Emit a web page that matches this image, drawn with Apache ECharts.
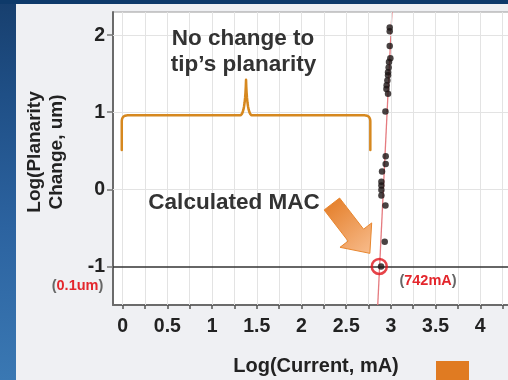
<!DOCTYPE html>
<html><head><meta charset="utf-8">
<script src="https://cdn.jsdelivr.net/npm/echarts@6/dist/echarts.min.js"></script>
<style>html,body{margin:0;padding:0;background:#eff0f3;}#c{width:508px;height:380px;}</style>
</head><body><div id="c"></div>
<script>
// ---- data ----
const currentLog = [2.987, 2.987, 2.987, 2.994, 2.979, 2.975, 2.968, 2.968, 2.961, 2.953, 2.950, 2.968, 2.939,
                    2.942, 2.942, 2.901, 2.894, 2.894, 2.894, 2.894, 2.939, 2.931, 2.890];
const planarityLog = [2.10, 2.05, 1.86, 1.70, 1.65, 1.58, 1.52, 1.48, 1.41, 1.35, 1.30, 1.24, 1.01,
                      0.43, 0.33, 0.23, 0.10, 0.05, -0.01, -0.08, -0.21, -0.68, -1.00];
const macPoint = [2.87, -1];
const trendX = [2.853, 3.012];
const trendY = [-1.5, 2.3];
const xLabelValues = [0, 0.5, 1, 1.5, 2, 2.5, 3, 3.5, 4, 4.5];
const xTickValues = [0, 0.25, 0.5, 0.75, 1, 1.25, 1.5, 1.75, 2, 2.25, 2.5, 2.75, 3, 3.25, 3.5, 3.75, 4, 4.25, 4.5];
const yLabelValues = [-1, 0, 1, 2];
const hGridValues = [0, 1, 2];
const refLineY = -1;

const FONT = '"Liberation Sans", Arial, sans-serif';
const chart = echarts.init(document.getElementById('c'), null, {renderer: 'canvas'});

const option = {
  animation: false,
  backgroundColor: '#eff0f3',
  grid: {left: 113, top: 12, width: 412, height: 293, show: true, backgroundColor: '#ffffff',
         borderColor: '#9a9a9a', borderWidth: 1, containLabel: false, outerBoundsMode: 'none'},
  xAxis: {
    type: 'value', min: -0.108, max: 4.5,
    axisLine: {show: true, onZero: false, lineStyle: {color: '#6b6b6b', width: 2}},
    axisTick: {show: true, customValues: xTickValues, length: 4, lineStyle: {color: '#555', width: 1.5}},
    axisLabel: {customValues: xLabelValues, margin: 12, fontSize: 19.5, fontWeight: 'bold', color: '#222', fontFamily: FONT},
    splitLine: {show: false}
  },
  yAxis: {
    type: 'value', min: -1.5, max: 2.3,
    axisLine: {show: true, onZero: false, lineStyle: {color: '#6b6b6b', width: 2}},
    axisTick: {show: true, customValues: yLabelValues, length: 6, lineStyle: {color: '#777', width: 1.5}},
    axisLabel: {customValues: yLabelValues, margin: 8, fontSize: 19.5, fontWeight: 'bold', color: '#222', fontFamily: FONT},
    splitLine: {show: false}
  },
  series: [
    {
      type: 'scatter', data: [], z: 1, silent: true,
      markLine: {
        silent: true, symbol: 'none', label: {show: false}, animation: false,
        lineStyle: {color: '#e3e3e3', width: 1, type: 'solid'},
        data: xTickValues.map(v => ({xAxis: v})).concat(hGridValues.map(v => ({yAxis: v})))
      }
    },
    {
      type: 'scatter', data: [], z: 2, silent: true,
      markLine: {
        silent: true, symbol: 'none', label: {show: false}, animation: false,
        lineStyle: {color: '#333', width: 1.5, type: 'solid'},
        data: [{yAxis: refLineY}]
      }
    },
    {
      type: 'line', z: 3, silent: true, showSymbol: false,
      data: trendX.map((x, i) => [x, trendY[i]]),
      lineStyle: {color: '#e57b80', width: 1.3}
    },
    {
      type: 'scatter', z: 5, symbolSize: 6.5,
      data: currentLog.map((x, i) => [x, planarityLog[i]]),
      itemStyle: {color: '#1c1414'}
    },
    {
      type: 'scatter', z: 6, symbol: 'circle', symbolSize: 15,
      data: [macPoint],
      itemStyle: {color: 'rgba(0,0,0,0)', borderColor: '#e0141c', borderWidth: 2.5}
    }
  ]
};
chart.setOption(option);

// ---- annotations anchored in data coordinates ----
const px = (x, y) => chart.convertToPixel({gridIndex: 0}, [x, y]);
const braceL = -0.01, braceR = 2.77, braceMid = 1.38, braceBar = 0.96, braceEnd = 0.51, bracePeak = 1.42;
const bL0 = px(braceL, braceEnd), bL1 = px(braceL, braceBar);
const bR0 = px(braceR, braceEnd), bR1 = px(braceR, braceBar);
const bM = px(braceMid, braceBar), bP = px(braceMid, bracePeak);
const r = 6;
function quad(p0, c, p1, n) {
  const pts = [];
  for (let i = 1; i <= n; i++) {
    const t = i / n, a = (1 - t) * (1 - t), b = 2 * (1 - t) * t, d = t * t;
    pts.push([a * p0[0] + b * c[0] + d * p1[0], a * p0[1] + b * c[1] + d * p1[1]]);
  }
  return pts;
}
let bracePts = [[bL0[0], bL0[1]], [bL1[0], bL1[1] + r]];
bracePts = bracePts.concat(quad([bL1[0], bL1[1] + r], [bL1[0], bL1[1]], [bL1[0] + r, bL1[1]], 8));
bracePts.push([bM[0] - 6, bM[1]]);
bracePts = bracePts.concat(quad([bM[0] - 6, bM[1]], [bM[0] - 1, bM[1]], [bP[0], bP[1]], 10));
bracePts = bracePts.concat(quad([bP[0], bP[1]], [bM[0] + 1, bM[1]], [bM[0] + 6, bM[1]], 10));
bracePts.push([bR1[0] - r, bR1[1]]);
bracePts = bracePts.concat(quad([bR1[0] - r, bR1[1]], [bR1[0], bR1[1]], [bR1[0], bR1[1] + r], 8));
bracePts.push([bR0[0], bR0[1]]);

// arrow: tail and tip in data coordinates
const tail = px(2.34, -0.19), tip = px(2.765, -0.83);
const dx = tip[0] - tail[0], dy = tip[1] - tail[1], len = Math.hypot(dx, dy);
const ux = dx / len, uy = dy / len, nx = -uy, ny = ux;
const shaftW = 19.5, headW = 40, headL = 23;
const hb = [tip[0] - ux * headL, tip[1] - uy * headL];
const arrowPts = [
  [tail[0] + nx * shaftW / 2, tail[1] + ny * shaftW / 2],
  [hb[0] + nx * shaftW / 2, hb[1] + ny * shaftW / 2],
  [hb[0] + nx * headW / 2, hb[1] + ny * headW / 2],
  tip,
  [hb[0] - nx * headW / 2, hb[1] - ny * headW / 2],
  [hb[0] - nx * shaftW / 2, hb[1] - ny * shaftW / 2],
  [tail[0] - nx * shaftW / 2, tail[1] - ny * shaftW / 2]
];

const boldText = (text, x, y, size, color) => ({
  type: 'text', x: x, y: y, z: 20,
  style: {text: text, fontSize: size, fontWeight: 'bold', fontFamily: FONT, fill: color,
          align: 'center', verticalAlign: 'middle'}
});
const richStyle = (text) => ({
  text: text, align: 'center', verticalAlign: 'middle',
  rich: {p: {fontSize: 14.5, fontWeight: 'bold', fontFamily: FONT, fill: '#666'},
         r: {fontSize: 14.5, fontWeight: 'bold', fontFamily: FONT, fill: '#e3262c'}}
});

chart.setOption({
  graphic: [
    {type: 'rect', z: 0, shape: {x: 0, y: 0, width: 16, height: 380},
     style: {fill: {type: 'linear', x: 0, y: 0, x2: 0, y2: 1, colorStops: [
       {offset: 0, color: '#173f6e'}, {offset: 0.25, color: '#1f4f86'}, {offset: 0.6, color: '#2c63a0'}, {offset: 1, color: '#3a78b3'}]}}},
    {type: 'rect', z: 0, shape: {x: 0, y: 0, width: 508, height: 4}, style: {fill: '#0e3a6a'}},
    {type: 'polyline', z: 10, shape: {points: bracePts},
     style: {fill: null, stroke: '#d6881f', lineWidth: 2.5, lineJoin: 'round', lineCap: 'round'}},
    {type: 'polygon', z: 10, shape: {points: arrowPts},
     style: {fill: {type: 'linear', x: 0, y: 0, x2: 1, y2: 1, colorStops: [
       {offset: 0, color: '#e37a22'}, {offset: 1, color: '#f8bd8e'}]}, stroke: '#e8862e', lineWidth: 1}},
    boldText('No change to', 243, 39, 22.5, '#333'),
    boldText('tip\u2019s planarity', 243.5, 65, 22.5, '#333'),
    boldText('Calculated MAC', 234, 202.5, 22.5, '#333'),
    {type: 'text', z: 20, x: 77.5, y: 286, style: richStyle('{p|(}{r|0.1um}{p|)}')},
    {type: 'text', z: 20, x: 428, y: 281, style: richStyle('{p|(}{r|742mA}{p|)}')},
    {type: 'text', z: 20, x: 46, y: 152, rotation: Math.PI / 2,
     style: {text: 'Log(Planarity\nChange, um)', fontSize: 19, fontWeight: 'bold', fontFamily: FONT, fill: '#222',
             align: 'center', verticalAlign: 'middle', lineHeight: 22}},
    boldText('Log(Current, mA)', 316, 366, 20, '#222'),
    {type: 'rect', z: 0, shape: {x: 436, y: 361, width: 33, height: 19}, style: {fill: '#e07b22'}}
  ]
});
</script>
</body></html>
